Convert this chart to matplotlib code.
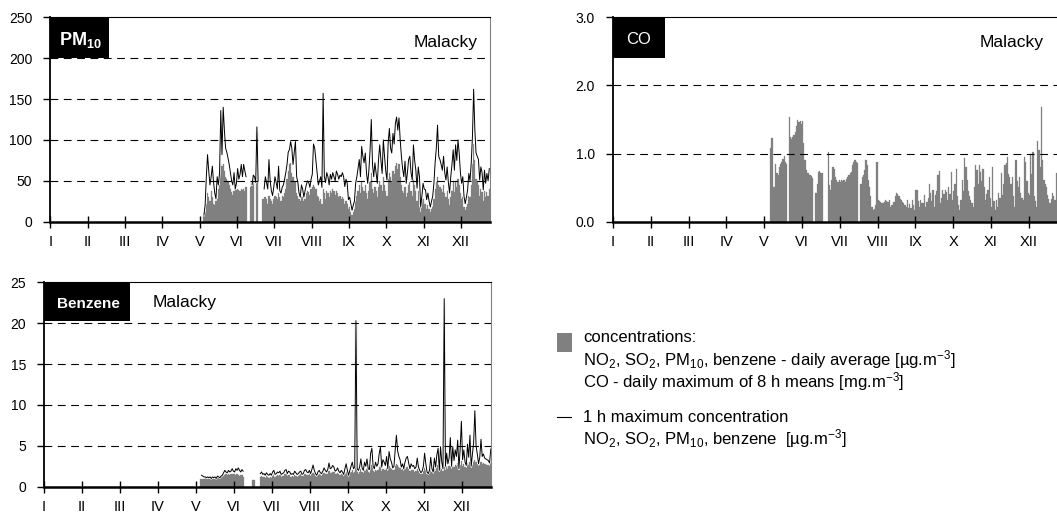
import numpy as np
import matplotlib
matplotlib.use("Agg")
import matplotlib.pyplot as plt
from matplotlib.patches import Rectangle
from matplotlib.lines import Line2D
import matplotlib.patheffects as pe

plt.rcParams['font.family'] = ['Liberation Sans', 'DejaVu Sans']
plt.rcParams['mathtext.default'] = 'regular'

nan = np.nan
months = ['I', 'II', 'III', 'IV', 'V', 'VI', 'VII', 'VIII', 'IX', 'X', 'XI', 'XII']
month_ticks = [0, 31, 62, 93, 124, 155, 186, 217, 248, 279, 310, 341]
n_days = 365

# PM10 - daily average and 1 h maximum [ug/m3], from day 127
pm10_first = 127
pm10_avg = [8, 12, 22, 35, 30, 25, 38, 30, 22, 20,
            25, 28, 40, 55, 72, 68, 70, 62, 55, 52,
            48, 45, 40, 36, 33, 38, 40, 39, 40, 39,
            38, 40, 39, 40, 38, 42, nan, nan, nan, 42,
            48, 50, nan, nan, 110, nan, nan, nan, nan, 28,
            30, 30, 28, 22, 32, 28, 25, 22, 28, 32,
            30, 28, 35, 30, 25, 32, 30, 35, 40, 52,
            62, 70, 72, 60, 55, 50, 48, 35, 32, 28,
            25, 32, 30, 25, 28, 35, 38, 36, 33, 40,
            42, 45, 42, 40, 32, 30, 25, 28, 22, 40,
            35, 28, 38, 35, 30, 38, 35, 40, 37, 33,
            38, 35, 30, 32, 28, 30, 28, 22, 25, 22,
            15, 18, 12, 8, 12, 16, 25, 32, 38, 45,
            35, 48, 42, 38, 45, 35, 28, 38, 48, 60,
            40, 35, 42, 38, 30, 42, 50, 45, 38, 55,
            45, 38, 32, 52, 60, 55, 50, 62, 58, 68,
            72, 65, 70, 55, 45, 38, 35, 42, 30, 35,
            45, 48, 38, 32, 52, 45, 38, 25, 38, 30,
            12, 18, 28, 22, 22, 16, 20, 15, 12, 15,
            18, 28, 40, 48, 55, 45, 42, 40, 36, 45,
            35, 30, 38, 28, 20, 30, 38, 48, 36, 50,
            42, 52, 45, 35, 28, 30, 18, 14, 18, 22,
            32, 30, 45, 70, 95, 75, 52, 48, 45, 32,
            40, 36, 25, 38, 30, 36, 32, 40]
pm10_max = [8, 20, 55, 82, 62, 45, 55, 68, 48, 35,
            28, 55, 45, 60, 136, 82, 140, 112, 90, 85,
            78, 70, 60, 50, 45, 60, 40, 47, 65, 52,
            58, 70, 55, 70, 62, 55, nan, nan, nan, nan,
            45, 57, 55, 48, 116, 50, nan, nan, nan, nan,
            40, 55, 48, 40, 76, 50, 38, 32, 42, 55,
            48, 40, 68, 38, 35, 42, 45, 52, 60, 70,
            85, 88, 98, 90, 70, 85, 98, 55, 48, 35,
            30, 45, 40, 30, 38, 45, 50, 48, 42, 52,
            58, 95, 90, 75, 60, 45, 50, 55, 42, 157,
            55, 48, 60, 55, 45, 58, 52, 60, 55, 50,
            62, 58, 52, 57, 55, 60, 55, 43, 52, 47,
            27, 30, 22, 14, 20, 25, 47, 55, 65, 76,
            55, 92, 80, 72, 84, 60, 47, 63, 88, 125,
            70, 55, 72, 60, 47, 76, 94, 75, 59, 100,
            80, 62, 51, 96, 114, 90, 84, 108, 95, 120,
            128, 112, 127, 100, 80, 65, 55, 74, 47, 60,
            76, 80, 60, 51, 94, 75, 63, 41, 67, 55,
            18, 31, 47, 40, 39, 27, 35, 25, 18, 25,
            31, 47, 72, 90, 118, 80, 76, 70, 63, 80,
            60, 51, 67, 48, 35, 55, 70, 88, 63, 94,
            75, 100, 84, 60, 47, 55, 31, 22, 30, 39,
            59, 50, 72, 104, 162, 112, 84, 80, 76, 51,
            67, 60, 39, 63, 47, 59, 50, 65]

# CO - daily maximum of 8 h means [mg/m3], from day 129
co_first = 129
co_max8h = [1.08, 1.23, 0.51, 0.51, 0.84, 0.72, 0.69, 0.80, 0.85, 0.88,
            0.92, 0.96, 0.88, 0.85, nan, 1.54, 1.25, 1.21, 1.24, 1.27,
            1.32, 1.40, 1.49, 1.46, 1.48, 1.43, 1.48, 1.15, 0.90, 0.76,
            0.72, 0.71, 0.69, 0.67, 0.64, nan, nan, 0.42, 0.56, 0.73,
            0.74, 0.72, 0.71, nan, nan, nan, nan, 1.03, 0.54, 0.46,
            0.61, 0.81, 0.78, 0.66, 0.61, 0.59, 0.61, 0.58, 0.61, 0.60,
            0.61, 0.59, 0.63, 0.65, 0.69, 0.71, 0.73, 0.83, 0.88, 0.90,
            0.88, 0.86, nan, nan, 0.56, 0.66, 0.69, 0.76, 0.90, 0.83,
            0.61, 0.51, 0.38, 0.22, 0.17, 0.18, 0.25, 0.88, 0.32, 0.30,
            0.29, 0.28, 0.27, 0.29, 0.32, 0.30, 0.29, 0.32, 0.22, 0.25,
            0.24, 0.29, 0.37, 0.42, 0.40, 0.37, 0.33, 0.32, 0.29, 0.27,
            0.25, 0.22, 0.32, 0.20, 0.26, 0.20, 0.32, 0.25, 0.17, 0.46,
            0.47, 0.30, 0.22, 0.32, 0.28, 0.27, 0.39, 0.22, 0.29, 0.35,
            0.56, 0.42, 0.30, 0.46, 0.22, 0.39, 0.45, 0.69, 0.74, 0.27,
            0.35, 0.46, 0.40, 0.46, 0.44, 0.32, 0.51, 0.40, 0.73, 0.32,
            0.45, 0.56, 0.78, 0.37, 0.25, 0.17, 0.32, 0.61, 0.45, 0.93,
            0.81, 0.61, 0.45, 0.37, 0.32, 0.28, 0.22, 0.51, 0.83, 0.76,
            0.55, 0.83, 0.73, 0.60, 0.78, 0.51, 0.32, 0.40, 0.46, 0.66,
            0.35, 0.22, 0.81, 0.30, 0.17, 0.32, 0.22, 0.42, 0.35, 0.72,
            0.39, 0.55, 0.83, 0.86, 0.95, 0.70, 0.66, 0.55, 0.66, 0.37,
            0.22, 0.90, 0.60, 0.51, 0.66, 0.42, 0.35, 0.32, 0.95, 0.88,
            0.60, 0.42, 0.39, 1.00, 0.70, 1.03, 0.37, 0.30, 0.22, 1.19,
            1.05, 0.80, 1.69, 0.90, 0.61, 0.55, 0.51, 0.39, 0.33, 0.27,
            0.34, 0.42, 0.38, 0.32, 0.71, 0.22]

# benzene - daily average and 1 h maximum [ug/m3], from day 127
benz_first = 127
benz_avg = [0.9, 1.0, 1.0, 1.0, 1.1, 1.0, 1.0, 1.1, 1.0, 1.0,
            1.1, 1.1, 1.0, 1.1, 1.2, 1.3, 1.2, 1.3, 1.4, 1.3,
            1.4, 1.5, 1.4, 1.5, 1.4, 1.5, 1.6, 1.5, 1.5, 1.4,
            1.5, 1.4, 1.3, 1.4, 1.4, 1.2, nan, nan, nan, nan,
            nan, nan, nan, 0.8, 0.8, nan, nan, nan, nan, 1.2,
            1.3, 1.2, 1.2, 1.1, 1.3, 1.2, 1.1, 1.2, 1.1, 1.3,
            1.4, 1.2, 1.3, 1.4, 1.3, 1.4, 1.2, 1.3, 1.3, 1.5,
            1.5, 1.3, 1.4, 1.4, 1.2, 1.3, 1.2, 1.4, 1.3, 1.2,
            1.3, 1.4, 1.5, 1.3, 1.3, 1.5, 1.6, 1.4, 1.4, 1.5,
            1.3, 1.5, 1.7, 1.5, 1.3, 1.2, 1.4, 1.5, 1.4, 1.3,
            1.5, 1.7, 1.6, 1.5, 1.6, 1.9, 1.7, 1.7, 1.8, 1.8,
            1.5, 1.6, 1.7, 1.6, 1.4, 1.6, 1.5, 1.3, 1.6, 1.8,
            1.5, 1.2, 1.5, 1.8, 2.0, 1.7, 1.8, 19.8, 1.8, 1.6,
            1.8, 2.2, 1.8, 1.7, 2.1, 1.9, 2.2, 1.8, 1.7, 2.4,
            2.6, 1.9, 1.8, 2.1, 1.9, 2.0, 2.4, 2.6, 1.9, 2.2,
            2.1, 2.0, 2.3, 1.9, 2.5, 2.3, 2.2, 2.0, 2.1, 2.5,
            2.8, 2.6, 2.4, 2.3, 2.0, 2.2, 1.9, 2.2, 2.4, 2.4,
            2.2, 1.9, 2.1, 2.0, 2.0, 1.8, 1.9, 2.2, 1.9, 1.7,
            1.5, 1.6, 1.9, 2.3, 2.0, 1.6, 1.5, 1.7, 2.2, 1.8,
            1.6, 2.2, 1.9, 2.3, 2.6, 1.8, 2.7, 2.2, 1.9, 22.5,
            2.1, 2.5, 2.2, 2.5, 3.0, 2.2, 2.8, 2.4, 2.7, 2.5,
            2.9, 2.0, 2.7, 3.2, 2.5, 2.8, 2.4, 2.3, 2.9, 2.6,
            3.0, 2.3, 2.7, 3.0, 3.3, 3.0, 2.8, 2.5, 2.7, 3.0,
            2.8, 2.9, 2.8, 2.8, 2.7, 2.7, 2.5, 2.9]
benz_max = [nan, 1.4, 1.3, 1.2, 1.2, 1.1, 1.2, 1.1, 1.2, 1.0,
            1.2, 1.1, 1.2, 1.0, 1.3, 1.2, 1.1, 1.3, 1.4, 1.7,
            2.0, 1.8, 1.7, 2.0, 1.8, 1.9, 2.2, 1.9, 1.8, 2.2,
            2.0, 2.3, 2.0, 1.8, 2.1, 1.9, nan, nan, nan, nan,
            nan, nan, nan, nan, nan, nan, nan, nan, nan, 1.6,
            1.8, 1.5, 1.6, 1.4, 1.7, 1.5, 1.4, 1.6, 1.4, 1.8,
            2.0, 1.5, 1.6, 1.8, 1.7, 1.9, 1.5, 1.6, 1.7, 2.0,
            2.1, 1.6, 1.9, 1.8, 1.5, 1.6, 1.5, 1.9, 1.7, 1.5,
            1.6, 1.8, 1.9, 1.5, 1.6, 2.0, 2.1, 1.8, 1.7, 2.0,
            1.6, 2.1, 2.65, 2.0, 1.6, 1.4, 1.8, 2.0, 1.7, 1.6,
            1.9, 2.3, 2.0, 1.8, 2.1, 2.9, 2.2, 2.3, 2.6, 2.4,
            1.9, 2.0, 2.3, 1.9, 1.7, 2.0, 1.8, 1.5, 2.2, 2.8,
            2.0, 1.4, 2.0, 2.5, 3.0, 2.2, 2.4, 20.3, 2.2, 2.0,
            2.4, 3.4, 2.3, 2.0, 3.0, 2.5, 3.4, 2.2, 2.1, 4.1,
            4.7, 2.5, 2.2, 3.0, 2.5, 2.8, 4.1, 4.8, 2.4, 3.3,
            3.0, 2.6, 3.7, 2.2, 4.3, 3.4, 3.0, 2.3, 2.5, 4.5,
            6.3, 4.4, 3.7, 3.3, 2.4, 2.8, 2.2, 3.0, 3.5, 3.7,
            2.9, 2.2, 2.8, 2.5, 2.6, 2.2, 2.4, 3.5, 2.4, 2.0,
            1.7, 1.9, 2.5, 4.1, 2.8, 1.8, 1.6, 2.0, 3.6, 2.2,
            1.8, 3.5, 2.4, 3.9, 4.7, 2.0, 4.9, 3.0, 2.2, 23.0,
            2.5, 4.1, 2.8, 3.5, 6.0, 2.5, 4.9, 3.2, 4.5, 3.7,
            5.7, 2.2, 4.6, 8.0, 3.3, 4.5, 3.0, 2.6, 5.2, 3.6,
            6.3, 2.5, 4.0, 5.4, 9.3, 5.0, 4.0, 2.8, 3.6, 5.8,
            3.7, 4.0, 3.5, 3.4, 3.3, 3.2, 2.9, 4.6]

GREY = '#808080'
W, H = 1057, 513
fig = plt.figure(figsize=(W / 100, H / 100), dpi=100)


def px_axes(left, top, right, bottom):
    return fig.add_axes([left / W, 1 - bottom / H, (right - left) / W, (bottom - top) / H])


def panel(ax, first, avg, mx, ymax, ystep, fmt):
    days = np.arange(first, first + len(avg))
    ax.bar(days, avg, width=1.0, align='edge', color=GREY,
           edgecolor=GREY, linewidth=0.2, zorder=1)
    if mx is not None:
        ax.plot(days + 0.5, mx, color='black', lw=0.7, zorder=2,
                path_effects=[pe.Stroke(linewidth=1.6, foreground='white'), pe.Normal()])
    ax.set_xlim(0, n_days)
    ax.set_ylim(0, ymax)
    ax.set_xticks(month_ticks)
    ax.set_xticklabels(months)
    yt = np.arange(0, ymax + ystep / 2, ystep)
    ax.set_yticks(yt)
    ax.set_yticklabels([fmt % v for v in yt])
    for v in yt[1:-1]:
        ax.axhline(v, color='black', lw=0.8, ls=(0, (7, 5)), zorder=3)
    ax.tick_params(axis='x', direction='inout', length=9, width=1, labelsize=10.5, pad=5)
    ax.tick_params(axis='y', direction='out', length=5, width=1, labelsize=10, pad=8)
    ax.spines['bottom'].set_linewidth(1.8)
    ax.spines['left'].set_linewidth(1.3)
    ax.spines['top'].set_linewidth(0.8)
    ax.spines['right'].set_linewidth(0.8)
    ax.spines['right'].set_color(GREY)


def tag(ax, w, h, text, weight, size, tx):
    ax.add_patch(Rectangle((0, 1 - h), w, h, transform=ax.transAxes,
                           facecolor='black', edgecolor='none', zorder=5, clip_on=False))
    ax.text(tx, 1 - h / 2 - 0.01, text, transform=ax.transAxes, color='white',
            fontsize=size, fontweight=weight, ha='center', va='center', zorder=6)


# PM10
ax1 = px_axes(50.4, 17.3, 489.9, 221.7)
panel(ax1, pm10_first, pm10_avg, pm10_max, 250, 50, '%d')
tag(ax1, 0.133, 0.2, 'PM$_{10}$', 'bold', 13, 0.068)
ax1.text(0.973, 0.879, 'Malacky', transform=ax1.transAxes, ha='right', va='center', fontsize=12.5)

# CO
ax2 = px_axes(613, 17.3, 1058, 221.7)
panel(ax2, co_first, co_max8h, None, 3.0, 1.0, '%.1f')
tag(ax2, 0.116, 0.2, 'CO', 'normal', 12, 0.058)
ax2.text(0.967, 0.879, 'Malacky', transform=ax2.transAxes, ha='right', va='center', fontsize=12.5)

# Benzene
ax3 = px_axes(44, 282.3, 491.4, 486.7)
panel(ax3, benz_first, benz_avg, benz_max, 25, 5, '%d')
tag(ax3, 0.1916, 0.188, 'Benzene', 'bold', 11, 0.0985)
ax3.text(0.2436, 0.9036, 'Malacky', transform=ax3.transAxes, ha='left', va='center', fontsize=12.5)

# legend
fig.patches.append(Rectangle((557 / W, 1 - 352 / H), 15 / W, 19 / H, transform=fig.transFigure,
                             facecolor=GREY, edgecolor='none'))
fig.add_artist(Line2D([557 / W, 571 / W], [1 - 417 / H, 1 - 417 / H], transform=fig.transFigure,
                      color='black', lw=0.8))
lx = 583 / W
leg_lines = [(338, 'concentrations:'),
             (360, 'NO$_2$, SO$_2$, PM$_{10}$, benzene - daily average [µg.m$^{-3}$]'),
             (382, 'CO - daily maximum of 8 h means [mg.m$^{-3}$]'),
             (417, '1 h maximum concentration'),
             (439, 'NO$_2$, SO$_2$, PM$_{10}$, benzene  [µg.m$^{-3}$]')]
for y, s in leg_lines:
    fig.text(lx, 1 - y / H, s, fontsize=12, ha='left', va='center')

fig.savefig('out.png', dpi=100)
